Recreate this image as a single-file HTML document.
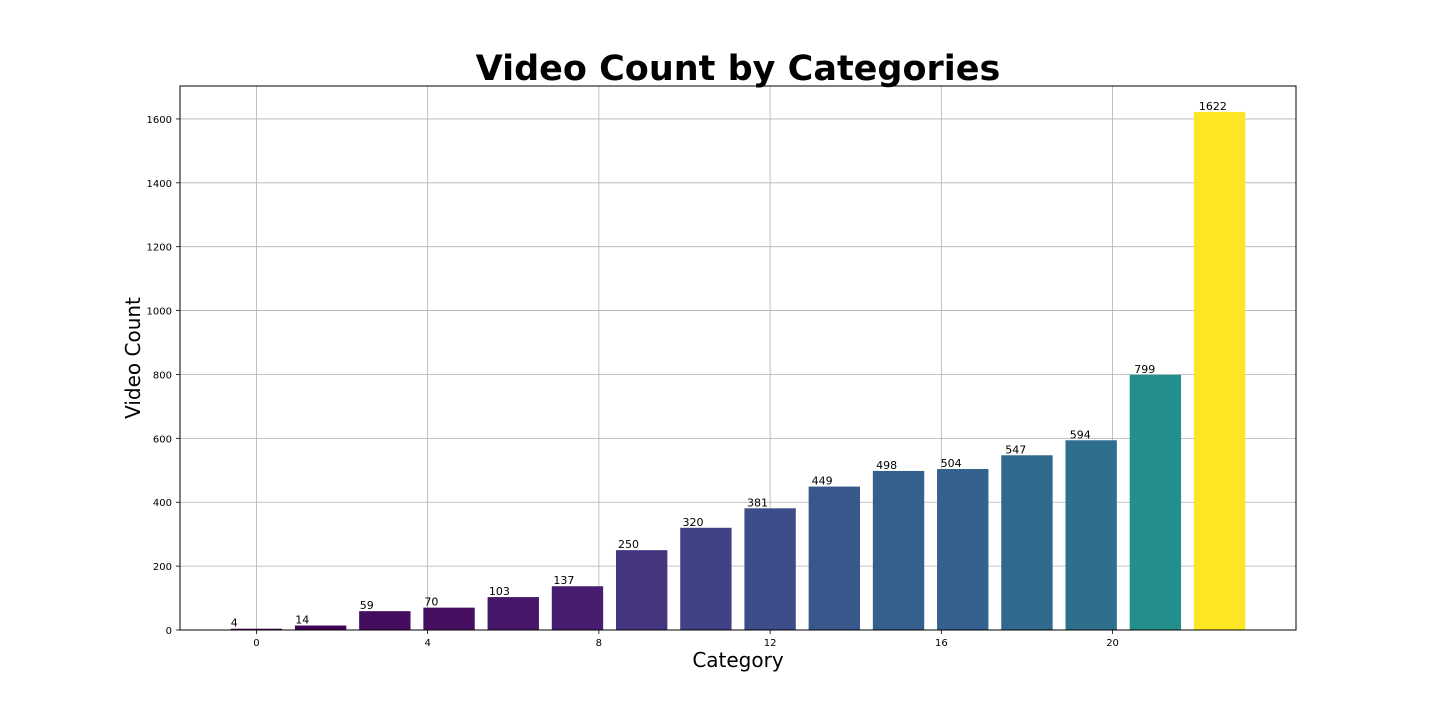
<!DOCTYPE html>
<html><head><meta charset="utf-8"><style>
body{margin:0;background:#fff;}
svg{display:block;font-family:"DejaVu Sans","Liberation Sans",sans-serif;}
</style></head><body>
<svg id="chart" width="1440" height="720">
<text x="738" y="80" text-anchor="middle" font-size="35" font-weight="bold">Video Count by Categories</text>
<g id="grid"></g><g id="bars"></g><g id="ticks"></g>
<rect x="180" y="86" width="1116" height="544" fill="none" stroke="#000" stroke-width="1"/>
<text x="738" y="667" text-anchor="middle" font-size="20">Category</text>
<text transform="translate(140,358) rotate(-90)" text-anchor="middle" font-size="20">Video Count</text>
</svg>
<script>
const values=[4,14,59,70,103,137,250,320,381,449,498,504,547,594,799,1622];
const xTicks=[0,4,8,12,16,20];
const yTicks=[0,200,400,600,800,1000,1200,1400,1600];
const L=180,R=1296,T=86,B=630;
const n=values.length, step=1.5, bw=1.2;
const xmin0=-bw/2, xmax0=(n-1)*step+bw/2, pad=(xmax0-xmin0)*0.05;
const xmin=xmin0-pad, xmax=xmax0+pad;
const ymax=Math.max(...values)*1.05;
const X=v=>L+(v-xmin)/(xmax-xmin)*(R-L);
const Y=v=>B-v/ymax*(B-T);
const vir=["#440154","#482475","#414487","#355f8d","#2a788e","#21918c","#22a884","#44bf70","#7ad151","#bddf26","#fde725"];
function cmap(t){t=Math.max(0,Math.min(1,t));const s=t*10,i=Math.min(9,Math.floor(s)),f=s-i;
const a=vir[i],b=vir[i+1];const c=k=>Math.round(parseInt(a.substr(k,2),16)*(1-f)+parseInt(b.substr(k,2),16)*f);
return `rgb(${c(1)},${c(3)},${c(5)})`;}
const NS="http://www.w3.org/2000/svg";
const g=document.getElementById('grid'),bg=document.getElementById('bars'),tg=document.getElementById('ticks');
function mk(tag,at,par){const e=document.createElementNS(NS,tag);for(const k in at)e.setAttribute(k,at[k]);par.appendChild(e);return e;}
xTicks.forEach(t=>{const x=X(t);
const l=mk('line',{x1:x,x2:x,y1:T,y2:B,stroke:'#b0b0b0','stroke-width':0.8},g);


mk('line',{x1:x,x2:x,y1:B,y2:B+4,stroke:'#000','stroke-width':0.8},tg);
const tx=mk('text',{x:x,y:B+16,'text-anchor':'middle','font-size':10},tg);tx.textContent=t;

});
yTicks.forEach(t=>{const y=Y(t);
const l=mk('line',{x1:L,x2:R,y1:y,y2:y,stroke:'#b0b0b0','stroke-width':0.8},g);


mk('line',{x1:L-4,x2:L,y1:y,y2:y,stroke:'#000','stroke-width':0.8},tg);
const tx=mk('text',{x:L-8,y:y+4,'text-anchor':'end','font-size':10},tg);tx.textContent=t;

});
const mn=Math.min(...values),mx=Math.max(...values);
values.forEach((v,i)=>{const c=i*step,x0=X(c-bw/2),x1=X(c+bw/2);
const r=mk('rect',{x:x0,y:Y(v),width:x1-x0,height:B-Y(v),fill:cmap((v-mn)/(mx-mn))},bg);


const tx=mk('text',{x:x0+i*0.33,y:Y(v)-2,'font-size':11},bg);tx.textContent=v;

});
</script>
</body></html>
